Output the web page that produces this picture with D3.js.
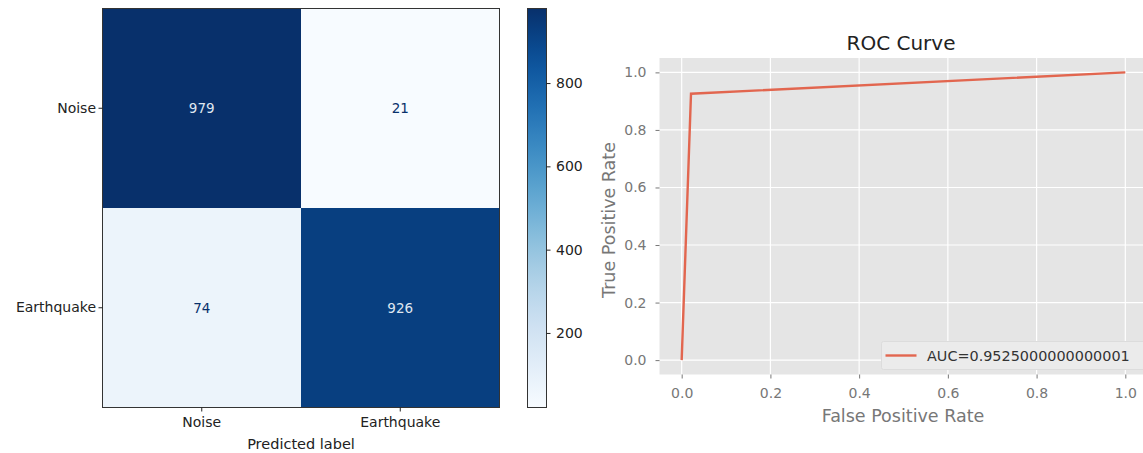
<!DOCTYPE html>
<html>
<head>
<meta charset="utf-8">
<script src="https://cdn.jsdelivr.net/npm/d3@7"></script>
<style>
  body { margin: 0; background: #fff; }
  svg { display: block; font-family: "DejaVu Sans", sans-serif; }
</style>
</head>
<body>
<svg id="chart" width="1143" height="453"></svg>
<script>
// Confusion matrix data
const classLabels = ['Noise', 'Earthquake'];
const matrixValues = [
  [979, 21],
  [74, 926],
];
const colorbarTicks = [200, 400, 600, 800];

// ROC data
const rocFpr = [0, 0.021, 1];
const rocTpr = [0, 0.926, 1];
const rocTicks = [0, 0.2, 0.4, 0.6, 0.8, 1.0];
const aucLabel = 'AUC=0.9525000000000001';

const svg = d3.select('#chart');

const styleAxis = (axisG, color, size) => {
  axisG.select('.domain').remove();
  axisG.selectAll('text')
    .attr('font-size', size)
    .attr('fill', color)
    .attr('font-family', 'DejaVu Sans');
  axisG.selectAll('line').attr('stroke', color);
};

// ---------- Confusion matrix ----------
const CM_LEFT = 102.5;
const CM_RIGHT = 499.5;
const CM_TOP = 8.5;
const CM_BOTTOM = 407.5;

const flat = matrixValues.flat();
const [minVal, maxVal] = d3.extent(flat);
const blues = d3.scaleSequential(d3.interpolateBlues).domain([minVal, maxVal]);

const xBand = d3.scaleBand().domain(classLabels).range([CM_LEFT, CM_RIGHT]);
const yBand = d3.scaleBand().domain(classLabels).range([CM_TOP, CM_BOTTOM]);

const cells = [];
matrixValues.forEach((row, i) => row.forEach((v, j) => {
  cells.push({ actual: classLabels[i], predicted: classLabels[j], value: v });
}));

const cm = svg.append('g');

cm.selectAll('rect.cell')
  .data(cells)
  .enter()
  .append('rect')
  .attr('class', 'cell')
  .attr('x', d => xBand(d.predicted))
  .attr('y', d => yBand(d.actual))
  .attr('width', xBand.bandwidth())
  .attr('height', yBand.bandwidth())
  .attr('fill', d => blues(d.value));

const midVal = (minVal + maxVal) / 2;
cm.selectAll('text.cell-label')
  .data(cells)
  .enter()
  .append('text')
  .attr('class', 'cell-label')
  .attr('x', d => xBand(d.predicted) + xBand.bandwidth() / 2)
  .attr('y', d => yBand(d.actual) + yBand.bandwidth() / 2)
  .attr('text-anchor', 'middle')
  .attr('dominant-baseline', 'central')
  .attr('font-size', 13.5)
  .attr('fill', d => (d.value > midVal ? '#dfe6f0' : blues(maxVal)))
  .text(d => d.value);

cm.append('rect')
  .attr('x', CM_LEFT)
  .attr('y', CM_TOP)
  .attr('width', CM_RIGHT - CM_LEFT)
  .attr('height', CM_BOTTOM - CM_TOP)
  .attr('fill', 'none')
  .attr('stroke', '#333')
  .attr('stroke-width', 1);

const cmYAxis = cm.append('g')
  .attr('transform', `translate(${CM_LEFT},0)`)
  .call(d3.axisLeft(yBand).tickSize(4).tickPadding(2.5));
styleAxis(cmYAxis, '#222', 14);

const cmXAxis = cm.append('g')
  .attr('transform', `translate(0,${CM_BOTTOM})`)
  .call(d3.axisBottom(xBand).tickSize(4).tickPadding(6));
styleAxis(cmXAxis, '#222', 14);

cm.append('text')
  .attr('x', (CM_LEFT + CM_RIGHT) / 2)
  .attr('y', 449)
  .attr('text-anchor', 'middle')
  .attr('font-size', 14.5)
  .attr('fill', '#222')
  .text('Predicted label');

// ---------- Colorbar ----------
const CB_LEFT = 527.5;
const CB_WIDTH = 19;
const cbScale = d3.scaleLinear().domain([minVal, maxVal]).range([CM_BOTTOM, CM_TOP]);

const defs = svg.append('defs');
const grad = defs.append('linearGradient')
  .attr('id', 'cb-grad')
  .attr('x1', 0).attr('y1', 1).attr('x2', 0).attr('y2', 0);
d3.range(0, 1.0001, 0.05).forEach(t => {
  grad.append('stop')
    .attr('offset', t)
    .attr('stop-color', d3.interpolateBlues(t));
});

svg.append('rect')
  .attr('x', CB_LEFT)
  .attr('y', CM_TOP)
  .attr('width', CB_WIDTH)
  .attr('height', CM_BOTTOM - CM_TOP)
  .attr('fill', 'url(#cb-grad)')
  .attr('stroke', '#333')
  .attr('stroke-width', 1);

const cbAxis = svg.append('g')
  .attr('transform', `translate(${CB_LEFT + CB_WIDTH},0)`)
  .call(d3.axisRight(cbScale).tickValues(colorbarTicks).tickSize(4).tickPadding(5.5));
styleAxis(cbAxis, '#222', 14);

// ---------- ROC curve ----------
const xRoc = d3.scaleLinear().domain([-0.05, 1.05]).range([659.5, 1147.5]);
const yRoc = d3.scaleLinear().domain([-0.05, 1.05]).range([374.5, 58]);

const roc = svg.append('g');

roc.append('rect')
  .attr('x', xRoc(-0.05))
  .attr('y', yRoc(1.05))
  .attr('width', xRoc(1.05) - xRoc(-0.05))
  .attr('height', yRoc(-0.05) - yRoc(1.05))
  .attr('fill', '#e5e5e5');

roc.selectAll('line.vgrid')
  .data(rocTicks)
  .enter()
  .append('line')
  .attr('class', 'vgrid')
  .attr('x1', d => xRoc(d)).attr('x2', d => xRoc(d))
  .attr('y1', yRoc(1.05)).attr('y2', yRoc(-0.05))
  .attr('stroke', '#fff').attr('stroke-width', 1.2);

roc.selectAll('line.hgrid')
  .data(rocTicks)
  .enter()
  .append('line')
  .attr('class', 'hgrid')
  .attr('y1', d => yRoc(d)).attr('y2', d => yRoc(d))
  .attr('x1', xRoc(-0.05)).attr('x2', xRoc(1.05))
  .attr('stroke', '#fff').attr('stroke-width', 1.2);

const rocXAxis = roc.append('g')
  .attr('transform', `translate(0,${yRoc(-0.05)})`)
  .call(d3.axisBottom(xRoc).tickValues(rocTicks).tickFormat(d3.format('.1f')).tickSize(4).tickPadding(10));
styleAxis(rocXAxis, '#777', 14);

const rocYAxis = roc.append('g')
  .attr('transform', `translate(${xRoc(-0.05)},0)`)
  .call(d3.axisLeft(yRoc).tickValues(rocTicks).tickFormat(d3.format('.1f')).tickSize(4).tickPadding(9));
styleAxis(rocYAxis, '#777', 14);

const rocPoints = rocFpr.map((x, i) => [x, rocTpr[i]]);
roc.append('path')
  .datum(rocPoints)
  .attr('d', d3.line().x(d => xRoc(d[0])).y(d => yRoc(d[1])))
  .attr('fill', 'none')
  .attr('stroke', '#e2664f')
  .attr('stroke-width', 2.4);

roc.append('text')
  .attr('x', 901)
  .attr('y', 50)
  .attr('text-anchor', 'middle')
  .attr('font-size', 20)
  .attr('fill', '#222')
  .text('ROC Curve');

roc.append('text')
  .attr('x', 903)
  .attr('y', 421.5)
  .attr('text-anchor', 'middle')
  .attr('font-size', 17.5)
  .attr('fill', '#777')
  .text('False Positive Rate');

roc.append('text')
  .attr('transform', `translate(615,220) rotate(-90)`)
  .attr('text-anchor', 'middle')
  .attr('font-size', 17.5)
  .attr('fill', '#777')
  .text('True Positive Rate');

// Legend
const legend = roc.append('g').attr('transform', 'translate(881.5,341.5)');
legend.append('rect')
  .attr('width', 270)
  .attr('height', 28)
  .attr('rx', 2)
  .attr('fill', '#ebebeb')
  .attr('stroke', '#dcdcdc');
legend.append('line')
  .attr('x1', 4).attr('x2', 35)
  .attr('y1', 14).attr('y2', 14)
  .attr('stroke', '#e2664f')
  .attr('stroke-width', 2.4);
legend.append('text')
  .attr('x', 45.5)
  .attr('y', 14)
  .attr('dominant-baseline', 'central')
  .attr('font-size', 14.4)
  .attr('fill', '#333')
  .text(aucLabel);
</script>
</body>
</html>
